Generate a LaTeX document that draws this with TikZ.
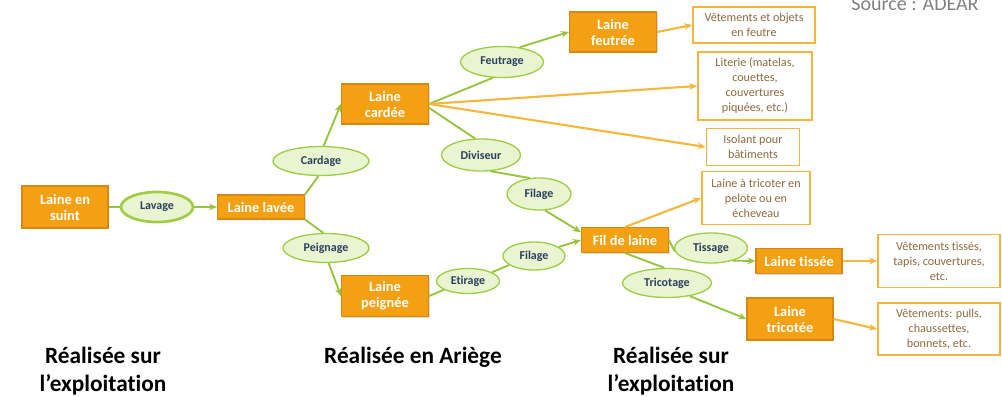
\documentclass[tikz,border=0pt]{standalone}
\usepackage{fontspec}
\setmainfont{Carlito}[Ligatures=NoCommon]
\usetikzlibrary{arrows.meta,shadows,shapes.geometric}
\definecolor{orfill}{RGB}{243,160,18}
\definecolor{ordraw}{RGB}{214,136,20}
\definecolor{elfill}{RGB}{232,245,208}
\definecolor{eldraw}{RGB}{160,204,70}
\definecolor{eltext}{RGB}{45,62,95}
\definecolor{gline}{RGB}{150,196,60}
\definecolor{oline}{RGB}{245,184,60}
\definecolor{outdraw}{RGB}{245,180,60}
\definecolor{outtext}{RGB}{140,105,60}
\definecolor{srcgray}{RGB}{128,128,128}
\begin{document}
\begin{tikzpicture}[x=0.75pt,y=-0.75pt,
 sz/.style 2 args={minimum width=#1*0.75pt,minimum height=#2*0.75pt},
 prod/.style={rectangle, fill=orfill, draw=ordraw, line width=0.8pt, text=white,
   font=\fontsize{10.8}{12}\selectfont\bfseries, align=center, inner sep=1pt,
   drop shadow={shadow xshift=1pt,shadow yshift=-1pt,opacity=0.25}},
 proc/.style={ellipse, fill=elfill, draw=eldraw, line width=1pt, text=eltext,
   font=\fontsize{9}{10}\selectfont\bfseries, inner sep=0pt},
 use/.style={rectangle, fill=white, draw=outdraw, line width=1.3pt, text=outtext,
   font=\fontsize{9.1}{11.25}\selectfont, align=center, inner sep=1pt},
 note/.style={font=\fontsize{17.5}{21}\selectfont\bfseries, align=center, text=black},
 gl/.style={draw=gline, line width=1.4pt},
 ga/.style={gl, -{Stealth[length=6pt,width=5pt]}},
 oa/.style={draw=oline, line width=1.6pt, -{Stealth[length=6pt,width=5pt]}},
]
\useasboundingbox (0,0) rectangle (1002,396);

% products and processes
\node[prod, sz={86}{42}] (suint) at (65,207) {Laine en\\suint};
\node[proc, sz={72}{30}, line width=2pt] (lavage) at (157,207) {Lavage};
\node[prod, sz={87}{24}] (lavee) at (261,207) {Laine lavée};
\node[proc, sz={96}{29}] (cardage) at (321,161) {Cardage};
\node[proc, sz={86}{29}] (peignage) at (326,248) {Peignage};
\node[prod, sz={87}{40}] (cardee) at (385,104) {Laine\\cardée};
\node[prod, sz={87}{41}] (peignee) at (385,296) {Laine\\peignée};
\node[proc, sz={83}{31}] (feutrage) at (502,62) {Feutrage};
\node[prod, sz={87}{40}] (feutree) at (613,32) {Laine\\feutrée};
\node[proc, sz={79}{32}] (diviseur) at (481,155) {Diviseur};
\node[proc, sz={64}{32}] (filage1) at (539,194) {Filage};
\node[proc, sz={63}{25}] (etirage) at (468,281) {Etirage};
\node[proc, sz={62}{28}] (filage2) at (534,256) {Filage};
\node[prod, sz={87}{25}] (fil) at (625,240) {Fil de laine};
\node[proc, sz={73}{30}] (tissage) at (711,248) {Tissage};
\node[proc, sz={89}{29}] (tricotage) at (667,283) {Tricotage};
\node[prod, sz={86}{25}] (tissee) at (799,261) {Laine tissée};
\node[prod, sz={86}{42}] (tricotee) at (790,319) {Laine\\tricotée};

% uses
\node[use, sz={122}{36}] (u1) at (754,25) {Vêtements et objets\\en feutre};
\node[use, sz={114}{68}] (u2) at (755,86) {Literie (matelas,\\couettes,\\couvertures\\piquées, etc.)};
\node[use, sz={93}{37}] (u3) at (753,147) {Isolant pour\\bâtiments};
\node[use, sz={108}{53}] (u4) at (756,198) {Laine à tricoter en\\pelote ou en\\écheveau};
\node[use, sz={122}{53}] (u5) at (939,261) {Vêtements tissés,\\tapis, couvertures,\\etc.};
\node[use, sz={122}{52}] (u6) at (939,329) {Vêtements: pulls,\\chaussettes,\\bonnets, etc.};

% notes
\node[note] (n1) at (103,371) {Réalisée sur\\l’exploitation};
\node[note] (n2) at (413,357) {Réalisée en Ariège};
\node[note] (n3) at (671,371) {Réalisée sur\\l’exploitation};
\node[font=\fontsize{15}{18}\selectfont, text=srcgray, anchor=base] (src) at (915,10) {Source : ADEAR};

% connectors
\draw[gl] (suint) -- (lavage);
\draw[ga] (lavage) -- (lavee);
\draw[gl] (lavee.north east) -- (cardage.260);
\draw[ga] (cardage.80) -- (cardee.west);
\draw[gl] (lavee.south east) -- (peignage.100);
\draw[ga] (peignage.280) -- (peignee.west);
\draw[gl] (cardee.east) -- (feutrage.240);
\draw[ga] (feutrage.40) -- (feutree.west);
\draw[oa] (feutree.east) -- (u1.west);
\draw[oa] (cardee.east) -- (u2.west);
\draw[oa] (cardee.east) -- (u3.west);
\draw[gl] (cardee.-5) -- (diviseur.110);
\draw[gl] (diviseur.300) -- (filage1.120);
\draw[ga] (filage1.290) -- (fil.170);
\draw[gl] (peignee.east) -- (etirage.200);
\draw[gl] (etirage.20) -- (filage2.200);
\draw[ga] (filage2.20) -- (fil.west);
\draw[oa] (fil.north) -- (u4.west);
\draw[gl] (fil.east) -- (tissage.185);
\draw[ga] (tissage.330) -- (tissee.west);
\draw[gl] (fil.south) -- (tricotage.100);
\draw[ga] (tricotage.330) -- (tricotee.west);
\draw[oa] (tissee.east) -- (u5.west);
\draw[oa] (tricotee.east) -- (u6.west);
\end{tikzpicture}
\end{document}
